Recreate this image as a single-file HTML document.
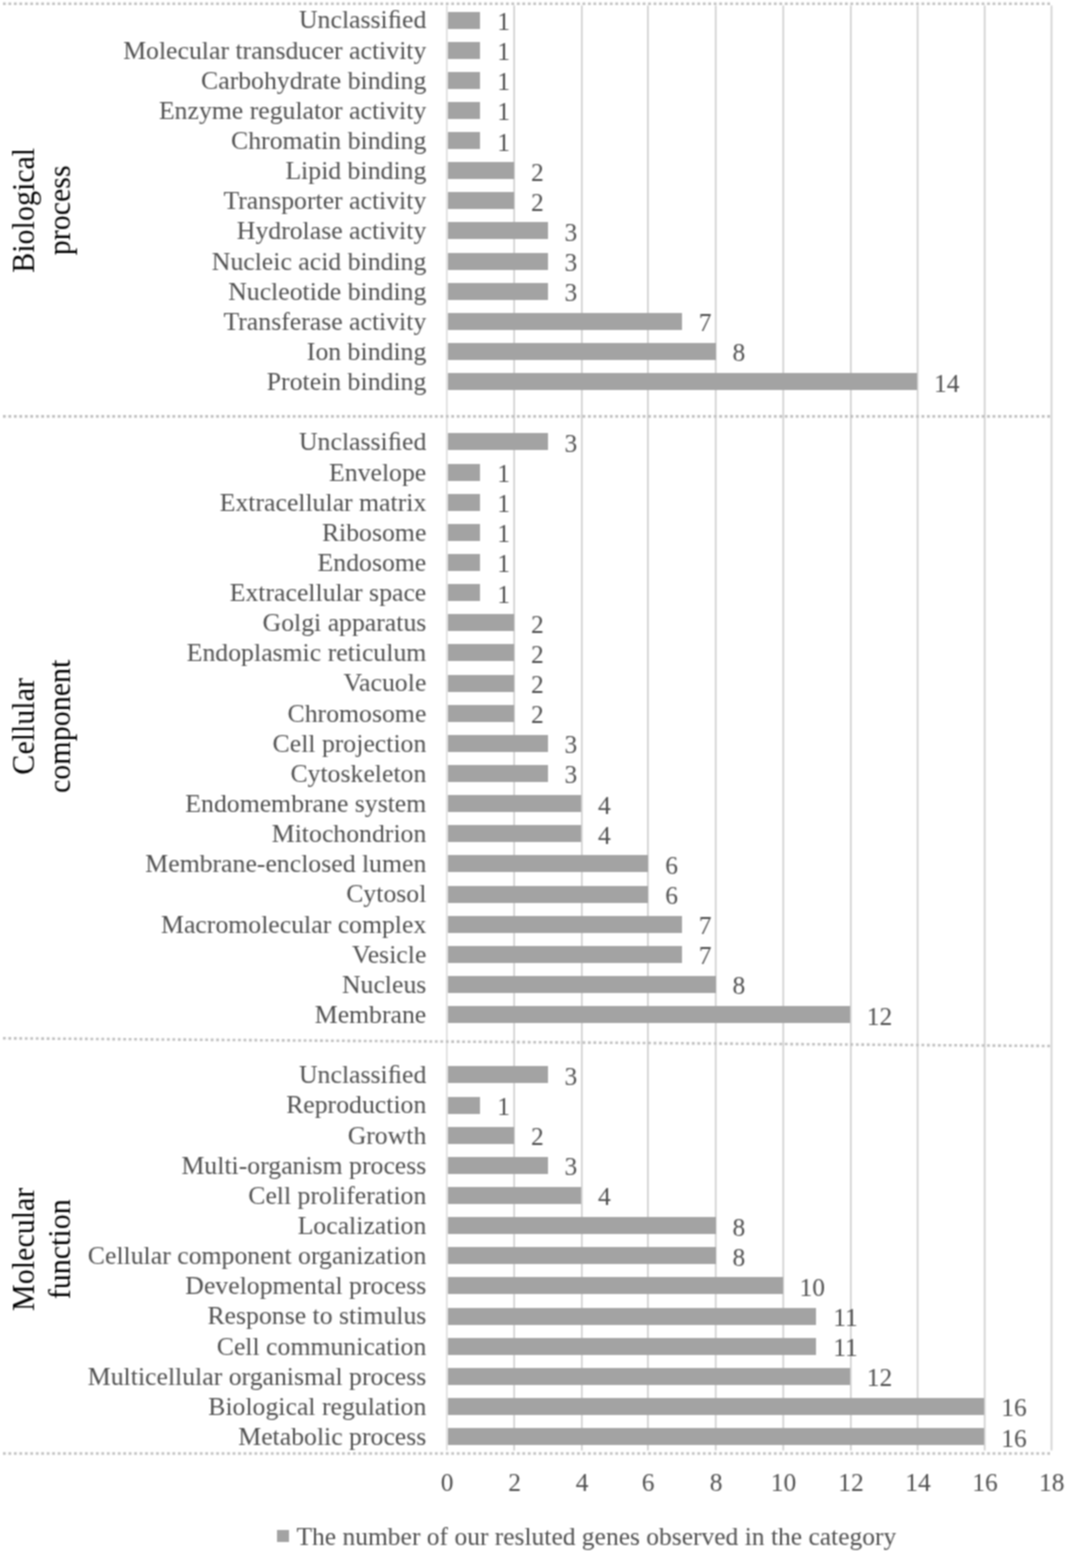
<!DOCTYPE html>
<html><head><meta charset="utf-8"><style>
html,body{margin:0;padding:0;background:#fff;}
body{width:1066px;height:1554px;position:relative;overflow:hidden;font-family:"Liberation Serif",serif;}
.t{position:absolute;font-size:25.5px;line-height:25.5px;white-space:nowrap;color:#505050;}
.c{text-align:right;font-size:25.75px;}
.b{position:absolute;background:#a3a3a3;}
.g{position:absolute;font-size:30px;line-height:33.3px;color:#000;text-align:center;white-space:nowrap;width:200px;height:66.6px;transform:rotate(-90deg) scaleY(1.08);}
#wrap{position:absolute;left:0;top:0;width:1066px;height:1554px;background:#fff;filter:url(#soft);}
svg{position:absolute;left:0;top:0;}
</style></head><body><svg width="0" height="0" style="position:absolute"><filter id="soft" x="0" y="0" width="100%" height="100%" color-interpolation-filters="sRGB"><feColorMatrix type="saturate" values="0"/><feConvolveMatrix order="3" kernelMatrix="1 2 1 2 4 2 1 2 1" divisor="16" edgeMode="duplicate"/></filter></svg><div id="wrap">

<svg width="1066" height="1554" viewBox="0 0 1066 1554">
<line x1="446.80" y1="5.5" x2="446.80" y2="1450.5" stroke="#dcdcdc" stroke-width="1.6"/>
<line x1="514.20" y1="5.5" x2="514.20" y2="1450.5" stroke="#cdcdcd" stroke-width="1.6"/>
<line x1="581.80" y1="5.5" x2="581.80" y2="1450.5" stroke="#cdcdcd" stroke-width="1.6"/>
<line x1="647.90" y1="5.5" x2="647.90" y2="1450.5" stroke="#cdcdcd" stroke-width="1.6"/>
<line x1="715.70" y1="5.5" x2="715.70" y2="1450.5" stroke="#cdcdcd" stroke-width="1.6"/>
<line x1="783.30" y1="5.5" x2="783.30" y2="1450.5" stroke="#cdcdcd" stroke-width="1.6"/>
<line x1="850.80" y1="5.5" x2="850.80" y2="1450.5" stroke="#cdcdcd" stroke-width="1.6"/>
<line x1="917.60" y1="5.5" x2="917.60" y2="1450.5" stroke="#cdcdcd" stroke-width="1.6"/>
<line x1="984.65" y1="5.5" x2="984.65" y2="1450.5" stroke="#cdcdcd" stroke-width="1.6"/>
<line x1="1051.50" y1="5.5" x2="1051.50" y2="1450.5" stroke="#cdcdcd" stroke-width="1.6"/>
<line x1="3" y1="3.7" x2="1050" y2="3.7" stroke="#bebebe" stroke-width="2.6" stroke-dasharray="2.7 2.7675"/>
<line x1="3" y1="416.4" x2="1050" y2="416.4" stroke="#bebebe" stroke-width="2.6" stroke-dasharray="2.7 2.7675"/>
<line x1="3" y1="1038.3" x2="1050" y2="1046.0" stroke="#bebebe" stroke-width="2.6" stroke-dasharray="2.7 2.7675"/>
<line x1="3" y1="1453.5" x2="1050" y2="1453.5" stroke="#bebebe" stroke-width="2.6" stroke-dasharray="2.7 2.7675"/>
</svg>
<div class="b" style="left:448.2px;top:11.50px;width:32.29px;height:17.0px"></div>
<div class="t c" style="right:639.70px;top:7.40px">Unclassiﬁed</div>
<div class="t" style="left:497.29px;top:8.94px">1</div>
<div class="b" style="left:448.2px;top:41.64px;width:32.29px;height:17.0px"></div>
<div class="t c" style="right:639.70px;top:37.54px">Molecular transducer activity</div>
<div class="t" style="left:497.29px;top:39.08px">1</div>
<div class="b" style="left:448.2px;top:71.78px;width:32.29px;height:17.0px"></div>
<div class="t c" style="right:639.70px;top:67.68px">Carbohydrate binding</div>
<div class="t" style="left:497.29px;top:69.22px">1</div>
<div class="b" style="left:448.2px;top:101.92px;width:32.29px;height:17.0px"></div>
<div class="t c" style="right:639.70px;top:97.82px">Enzyme regulator activity</div>
<div class="t" style="left:497.29px;top:99.36px">1</div>
<div class="b" style="left:448.2px;top:132.06px;width:32.29px;height:17.0px"></div>
<div class="t c" style="right:639.70px;top:127.96px">Chromatin binding</div>
<div class="t" style="left:497.29px;top:129.50px">1</div>
<div class="b" style="left:448.2px;top:162.20px;width:65.88px;height:17.0px"></div>
<div class="t c" style="right:639.70px;top:158.10px">Lipid binding</div>
<div class="t" style="left:530.88px;top:159.64px">2</div>
<div class="b" style="left:448.2px;top:192.34px;width:65.88px;height:17.0px"></div>
<div class="t c" style="right:639.70px;top:188.24px">Transporter activity</div>
<div class="t" style="left:530.88px;top:189.78px">2</div>
<div class="b" style="left:448.2px;top:222.48px;width:99.47px;height:17.0px"></div>
<div class="t c" style="right:639.70px;top:218.38px">Hydrolase activity</div>
<div class="t" style="left:564.47px;top:219.92px">3</div>
<div class="b" style="left:448.2px;top:252.62px;width:99.47px;height:17.0px"></div>
<div class="t c" style="right:639.70px;top:248.52px">Nucleic acid binding</div>
<div class="t" style="left:564.47px;top:250.06px">3</div>
<div class="b" style="left:448.2px;top:282.76px;width:99.47px;height:17.0px"></div>
<div class="t c" style="right:639.70px;top:278.66px">Nucleotide binding</div>
<div class="t" style="left:564.47px;top:280.20px">3</div>
<div class="b" style="left:448.2px;top:312.90px;width:233.83px;height:17.0px"></div>
<div class="t c" style="right:639.70px;top:308.80px">Transferase activity</div>
<div class="t" style="left:698.83px;top:310.34px">7</div>
<div class="b" style="left:448.2px;top:343.04px;width:267.42px;height:17.0px"></div>
<div class="t c" style="right:639.70px;top:338.94px">Ion binding</div>
<div class="t" style="left:732.42px;top:340.48px">8</div>
<div class="b" style="left:448.2px;top:373.18px;width:468.96px;height:17.0px"></div>
<div class="t c" style="right:639.70px;top:369.08px">Protein binding</div>
<div class="t" style="left:933.96px;top:370.62px">14</div>
<div class="b" style="left:448.2px;top:433.46px;width:99.47px;height:17.0px"></div>
<div class="t c" style="right:639.70px;top:429.36px">Unclassiﬁed</div>
<div class="t" style="left:564.47px;top:430.90px">3</div>
<div class="b" style="left:448.2px;top:463.60px;width:32.29px;height:17.0px"></div>
<div class="t c" style="right:639.70px;top:459.50px">Envelope</div>
<div class="t" style="left:497.29px;top:461.04px">1</div>
<div class="b" style="left:448.2px;top:493.74px;width:32.29px;height:17.0px"></div>
<div class="t c" style="right:639.70px;top:489.64px">Extracellular matrix</div>
<div class="t" style="left:497.29px;top:491.18px">1</div>
<div class="b" style="left:448.2px;top:523.88px;width:32.29px;height:17.0px"></div>
<div class="t c" style="right:639.70px;top:519.78px">Ribosome</div>
<div class="t" style="left:497.29px;top:521.32px">1</div>
<div class="b" style="left:448.2px;top:554.02px;width:32.29px;height:17.0px"></div>
<div class="t c" style="right:639.70px;top:549.92px">Endosome</div>
<div class="t" style="left:497.29px;top:551.46px">1</div>
<div class="b" style="left:448.2px;top:584.16px;width:32.29px;height:17.0px"></div>
<div class="t c" style="right:639.70px;top:580.06px">Extracellular space</div>
<div class="t" style="left:497.29px;top:581.60px">1</div>
<div class="b" style="left:448.2px;top:614.30px;width:65.88px;height:17.0px"></div>
<div class="t c" style="right:639.70px;top:610.20px">Golgi apparatus</div>
<div class="t" style="left:530.88px;top:611.74px">2</div>
<div class="b" style="left:448.2px;top:644.44px;width:65.88px;height:17.0px"></div>
<div class="t c" style="right:639.70px;top:640.34px">Endoplasmic reticulum</div>
<div class="t" style="left:530.88px;top:641.88px">2</div>
<div class="b" style="left:448.2px;top:674.58px;width:65.88px;height:17.0px"></div>
<div class="t c" style="right:639.70px;top:670.48px">Vacuole</div>
<div class="t" style="left:530.88px;top:672.02px">2</div>
<div class="b" style="left:448.2px;top:704.72px;width:65.88px;height:17.0px"></div>
<div class="t c" style="right:639.70px;top:700.62px">Chromosome</div>
<div class="t" style="left:530.88px;top:702.16px">2</div>
<div class="b" style="left:448.2px;top:734.86px;width:99.47px;height:17.0px"></div>
<div class="t c" style="right:639.70px;top:730.76px">Cell projection</div>
<div class="t" style="left:564.47px;top:732.30px">3</div>
<div class="b" style="left:448.2px;top:765.00px;width:99.47px;height:17.0px"></div>
<div class="t c" style="right:639.70px;top:760.90px">Cytoskeleton</div>
<div class="t" style="left:564.47px;top:762.44px">3</div>
<div class="b" style="left:448.2px;top:795.14px;width:133.06px;height:17.0px"></div>
<div class="t c" style="right:639.70px;top:791.04px">Endomembrane system</div>
<div class="t" style="left:598.06px;top:792.58px">4</div>
<div class="b" style="left:448.2px;top:825.28px;width:133.06px;height:17.0px"></div>
<div class="t c" style="right:639.70px;top:821.18px">Mitochondrion</div>
<div class="t" style="left:598.06px;top:822.72px">4</div>
<div class="b" style="left:448.2px;top:855.42px;width:200.24px;height:17.0px"></div>
<div class="t c" style="right:639.70px;top:851.32px">Membrane-enclosed lumen</div>
<div class="t" style="left:665.24px;top:852.86px">6</div>
<div class="b" style="left:448.2px;top:885.56px;width:200.24px;height:17.0px"></div>
<div class="t c" style="right:639.70px;top:881.46px">Cytosol</div>
<div class="t" style="left:665.24px;top:883.00px">6</div>
<div class="b" style="left:448.2px;top:915.70px;width:233.83px;height:17.0px"></div>
<div class="t c" style="right:639.70px;top:911.60px">Macromolecular complex</div>
<div class="t" style="left:698.83px;top:913.14px">7</div>
<div class="b" style="left:448.2px;top:945.84px;width:233.83px;height:17.0px"></div>
<div class="t c" style="right:639.70px;top:941.74px">Vesicle</div>
<div class="t" style="left:698.83px;top:943.28px">7</div>
<div class="b" style="left:448.2px;top:975.98px;width:267.42px;height:17.0px"></div>
<div class="t c" style="right:639.70px;top:971.88px">Nucleus</div>
<div class="t" style="left:732.42px;top:973.42px">8</div>
<div class="b" style="left:448.2px;top:1006.12px;width:401.78px;height:17.0px"></div>
<div class="t c" style="right:639.70px;top:1002.02px">Membrane</div>
<div class="t" style="left:866.78px;top:1003.56px">12</div>
<div class="b" style="left:448.2px;top:1066.40px;width:99.47px;height:17.0px"></div>
<div class="t c" style="right:639.70px;top:1062.30px">Unclassiﬁed</div>
<div class="t" style="left:564.47px;top:1063.84px">3</div>
<div class="b" style="left:448.2px;top:1096.54px;width:32.29px;height:17.0px"></div>
<div class="t c" style="right:639.70px;top:1092.44px">Reproduction</div>
<div class="t" style="left:497.29px;top:1093.98px">1</div>
<div class="b" style="left:448.2px;top:1126.68px;width:65.88px;height:17.0px"></div>
<div class="t c" style="right:639.70px;top:1122.58px">Growth</div>
<div class="t" style="left:530.88px;top:1124.12px">2</div>
<div class="b" style="left:448.2px;top:1156.82px;width:99.47px;height:17.0px"></div>
<div class="t c" style="right:639.70px;top:1152.72px">Multi-organism process</div>
<div class="t" style="left:564.47px;top:1154.26px">3</div>
<div class="b" style="left:448.2px;top:1186.96px;width:133.06px;height:17.0px"></div>
<div class="t c" style="right:639.70px;top:1182.86px">Cell proliferation</div>
<div class="t" style="left:598.06px;top:1184.40px">4</div>
<div class="b" style="left:448.2px;top:1217.10px;width:267.42px;height:17.0px"></div>
<div class="t c" style="right:639.70px;top:1213.00px">Localization</div>
<div class="t" style="left:732.42px;top:1214.54px">8</div>
<div class="b" style="left:448.2px;top:1247.24px;width:267.42px;height:17.0px"></div>
<div class="t c" style="right:639.70px;top:1243.14px">Cellular component organization</div>
<div class="t" style="left:732.42px;top:1244.68px">8</div>
<div class="b" style="left:448.2px;top:1277.38px;width:334.60px;height:17.0px"></div>
<div class="t c" style="right:639.70px;top:1273.28px">Developmental process</div>
<div class="t" style="left:799.60px;top:1274.82px">10</div>
<div class="b" style="left:448.2px;top:1307.52px;width:368.19px;height:17.0px"></div>
<div class="t c" style="right:639.70px;top:1303.42px">Response to stimulus</div>
<div class="t" style="left:833.19px;top:1304.96px">11</div>
<div class="b" style="left:448.2px;top:1337.66px;width:368.19px;height:17.0px"></div>
<div class="t c" style="right:639.70px;top:1333.56px">Cell communication</div>
<div class="t" style="left:833.19px;top:1335.10px">11</div>
<div class="b" style="left:448.2px;top:1367.80px;width:401.78px;height:17.0px"></div>
<div class="t c" style="right:639.70px;top:1363.70px">Multicellular organismal process</div>
<div class="t" style="left:866.78px;top:1365.24px">12</div>
<div class="b" style="left:448.2px;top:1397.94px;width:536.14px;height:17.0px"></div>
<div class="t c" style="right:639.70px;top:1393.84px">Biological regulation</div>
<div class="t" style="left:1001.14px;top:1395.38px">16</div>
<div class="b" style="left:448.2px;top:1428.08px;width:536.14px;height:17.0px"></div>
<div class="t c" style="right:639.70px;top:1423.98px">Metabolic process</div>
<div class="t" style="left:1001.14px;top:1425.52px">16</div>
<div class="t" style="left:397.10px;width:100px;text-align:center;top:1469.64px">0</div>
<div class="t" style="left:464.50px;width:100px;text-align:center;top:1469.64px">2</div>
<div class="t" style="left:532.10px;width:100px;text-align:center;top:1469.64px">4</div>
<div class="t" style="left:598.20px;width:100px;text-align:center;top:1469.64px">6</div>
<div class="t" style="left:666.00px;width:100px;text-align:center;top:1469.64px">8</div>
<div class="t" style="left:733.60px;width:100px;text-align:center;top:1469.64px">10</div>
<div class="t" style="left:801.10px;width:100px;text-align:center;top:1469.64px">12</div>
<div class="t" style="left:867.90px;width:100px;text-align:center;top:1469.64px">14</div>
<div class="t" style="left:934.95px;width:100px;text-align:center;top:1469.64px">16</div>
<div class="t" style="left:1001.80px;width:100px;text-align:center;top:1469.64px">18</div>
<div class="b" style="left:276.7px;top:1530.4px;width:12.7px;height:11.4px"></div>
<div class="t" style="left:296.5px;top:1523.94px">The number of our resluted genes observed in the category</div>
<div class="g" style="left:-59.00px;top:177.40px">Biological<br>process</div>
<div class="g" style="left:-59.00px;top:693.40px">Cellular<br>component</div>
<div class="g" style="left:-59.00px;top:1216.30px">Molecular<br>function</div>
</div></body></html>
